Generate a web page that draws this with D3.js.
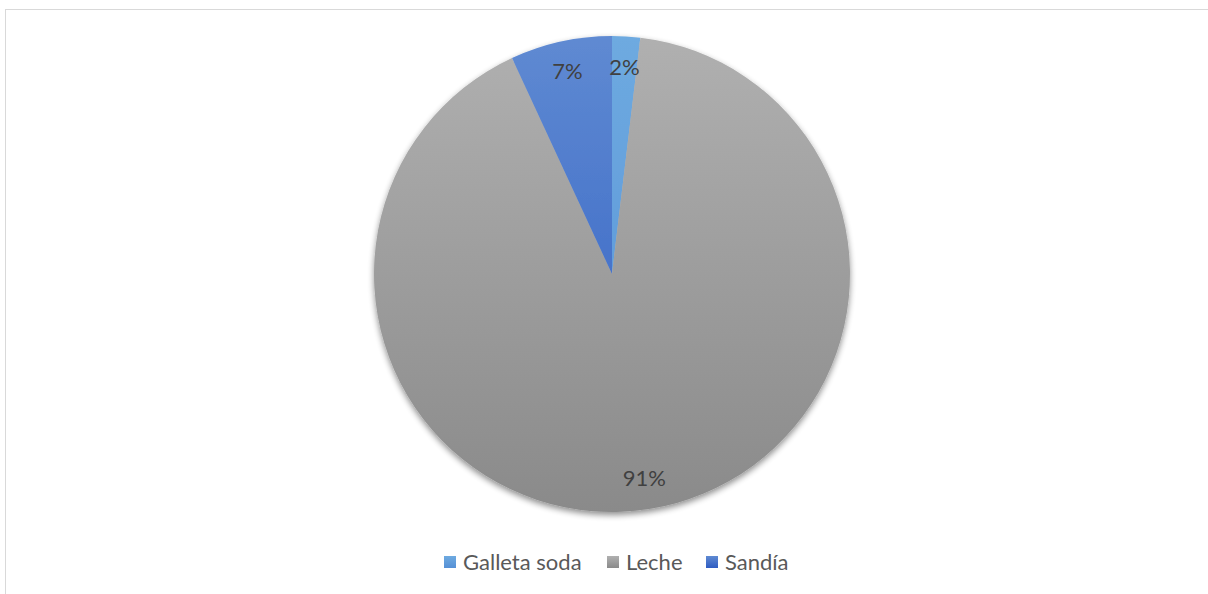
<!DOCTYPE html>
<html>
<head>
<meta charset="utf-8">
<script src="https://cdn.jsdelivr.net/npm/d3@7"></script>
<style>
  body { margin: 0; background: #fff; }
  svg { display: block; font-family: Lato, "Open Sans", sans-serif; }
</style>
</head>
<body>
<div id="chart"></div>
<script>
// ── Data ────────────────────────────────────────────────────────────────
const categories = ['Galleta soda', 'Leche', 'Sandía'];
const values     = [1.9, 91.2, 6.9];
const labels     = ['2%', '91%', '7%'];
const colorsTop  = ['#6eaae0', '#b0b0b0', '#5f8ad2'];
const colorsBot  = ['#5590d6', '#8a8a8a', '#2e5cc2'];

const W = 1208, H = 594;
const cx = 612, cy = 274, R = 238;

const svg = d3.select('#chart').append('svg').attr('width', W).attr('height', H);
const defs = svg.append('defs');

// chart area border (runs off the window on right and bottom)
svg.append('rect')
  .attr('x', 5.5).attr('y', 9.5).attr('width', W + 10).attr('height', H + 10)
  .attr('fill', 'none').attr('stroke', '#d9d9d9').attr('stroke-width', 1);

// ── Gradients (pie coords, centred at 0,0) ──────────────────────────────
categories.forEach((c, i) => {
  const gr = defs.append('linearGradient')
    .attr('id', 'g' + i).attr('gradientUnits', 'userSpaceOnUse')
    .attr('x1', 0).attr('y1', -R).attr('x2', 0).attr('y2', R);
  gr.append('stop').attr('offset', '0%').attr('stop-color', colorsTop[i]);
  gr.append('stop').attr('offset', '100%').attr('stop-color', colorsBot[i]);

  const lgr = defs.append('linearGradient').attr('id', 'lg' + i)
    .attr('x1', 0).attr('y1', 0).attr('x2', 0).attr('y2', 1);
  lgr.append('stop').attr('offset', '0%').attr('stop-color', colorsTop[i]);
  lgr.append('stop').attr('offset', '100%').attr('stop-color', colorsBot[i]);
});

const shadow = defs.append('filter').attr('id', 'sh')
  .attr('x', '-10%').attr('y', '-10%').attr('width', '120%').attr('height', '125%');
shadow.append('feGaussianBlur').attr('in', 'SourceAlpha').attr('stdDeviation', 3);
shadow.append('feOffset').attr('dx', 0).attr('dy', 3).attr('result', 'b');
shadow.append('feComponentTransfer').append('feFuncA').attr('type', 'linear').attr('slope', 0.45);
const mg = shadow.append('feMerge');
mg.append('feMergeNode');
mg.append('feMergeNode').attr('in', 'SourceGraphic');

// ── Pie ─────────────────────────────────────────────────────────────────
const pie = d3.pie().sort(null).value(d => d);
const arcs = pie(values);
const arc = d3.arc().innerRadius(0).outerRadius(R);
const labelArc = d3.arc().innerRadius(R * 0.87).outerRadius(R * 0.87);

const g = svg.append('g').attr('filter', 'url(#sh)')
  .append('g').attr('transform', `translate(${cx},${cy})`);

g.selectAll('path').data(arcs).enter().append('path')
  .attr('d', arc)
  .attr('fill', (d, i) => `url(#g${i})`);

// slice labels
svg.append('g').attr('transform', `translate(${cx},${cy})`)
  .selectAll('text').data(arcs).enter().append('text')
  .attr('transform', d => `translate(${labelArc.centroid(d)})`)
  .attr('text-anchor', 'middle').attr('dy', '0.35em')
  .attr('font-size', 22).attr('fill', '#404040')
  .text((d, i) => labels[i]);

// ── Legend ──────────────────────────────────────────────────────────────
const legX = [444, 607, 706];
const lg = svg.append('g');
categories.forEach((c, i) => {
  lg.append('rect')
    .attr('x', legX[i]).attr('y', 556).attr('width', 12).attr('height', 12)
    .attr('fill', `url(#lg${i})`);
  lg.append('text')
    .attr('x', legX[i] + 19).attr('y', 562).attr('dy', '0.35em')
    .attr('font-size', 22).attr('fill', '#595959')
    .text(c);
});
</script>
</body>
</html>
